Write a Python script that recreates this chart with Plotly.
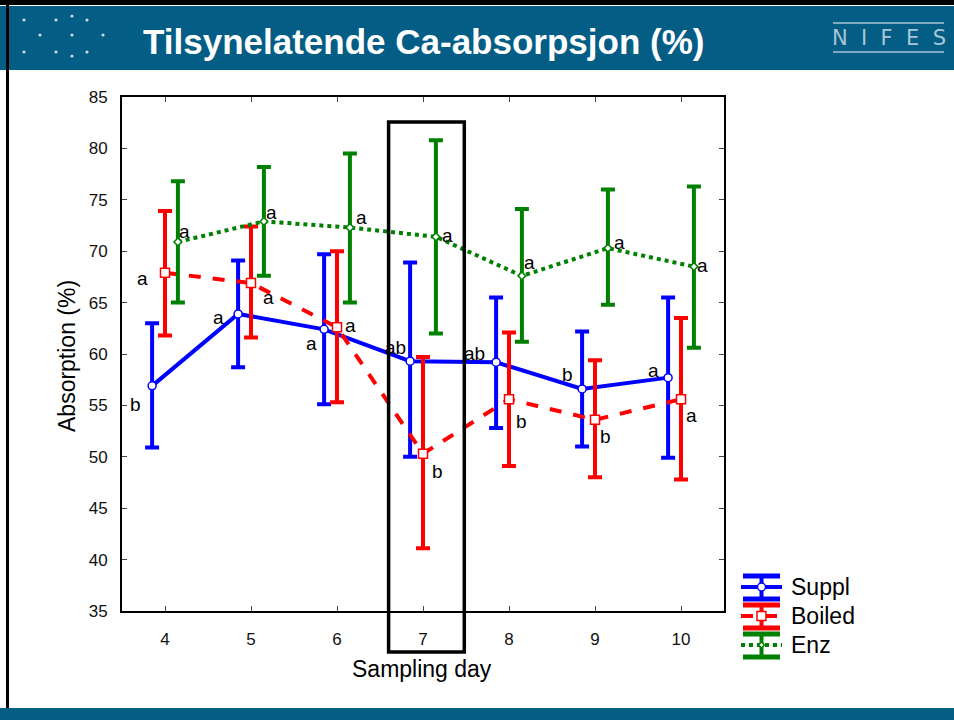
import plotly.graph_objects as go

# ==========================================
# Data
# ==========================================

days = [4, 5, 6, 7, 8, 9, 10]

suppl_mean = [56.9, 63.9, 62.4, 59.3, 59.2, 56.6, 57.7]
suppl_upper = [63.0, 69.1, 69.7, 68.9, 65.5, 62.2, 65.5]
suppl_lower = [50.9, 58.7, 55.1, 50.0, 52.8, 51.0, 49.9]
suppl_letters = ["b", "a", "a", "ab", "ab", "b", "a"]

boiled_mean = [67.9, 66.9, 62.6, 50.3, 55.6, 53.6, 55.6]
boiled_upper = [73.9, 72.4, 70.0, 59.7, 62.1, 59.4, 63.5]
boiled_lower = [61.8, 61.6, 55.3, 41.1, 49.1, 48.0, 47.8]
boiled_letters = ["a", "a", "a", "b", "b", "b", "a"]

enz_mean = [70.9, 72.9, 72.3, 71.4, 67.6, 70.3, 68.5]
enz_upper = [76.8, 78.2, 79.5, 80.8, 74.1, 76.0, 76.3]
enz_lower = [65.0, 67.6, 65.0, 62.0, 61.2, 64.8, 60.6]
enz_letters = ["a", "a", "a", "a", "a", "a", "a"]

highlight_day = 7

# ==========================================
# Style
# ==========================================

HEADER = "#045d85"
LOGO = "#a9c6d6"
FONT = "Liberation Sans, Arial, sans-serif"

# label offsets in pixels (dx, dy) relative to each point
suppl_shift = [(-17, -19), (-20, -4), (-13, -14), (-15, 14), (-22, 9), (-15, 14), (-15, 7)]
boiled_shift = [(-23, -6), (17, -14), (13, 2), (14, -18), (12, -22), (10, -17), (10, -16)]
enz_shift = [(7, 10), (8, 9), (12, 10), (12, 1), (8, 13), (12, 6), (9, 1)]

# plot area in pixels
L, R, T, B = 122, 724, 97, 611


def px_x(p):
    return (p - L) / (R - L)


def px_y(p):
    return (B - p) / (B - T)


series = [
    ("Suppl", suppl_mean, suppl_upper, suppl_lower, suppl_letters, suppl_shift,
     "#0000ff", "solid", "circle", 8, -0.15, 587),
    ("Boiled", boiled_mean, boiled_upper, boiled_lower, boiled_letters, boiled_shift,
     "#ff0000", "dash", "square", 9, 0.0, 616),
    ("Enz", enz_mean, enz_upper, enz_lower, enz_letters, enz_shift,
     "#008000", "dot", "diamond", 6, 0.15, 645),
]

fig = go.Figure()
annotations = []
shapes = []

for name, mean, upper, lower, letters, shift, color, dash, symbol, msize, off, ly in series:

    xs = [d + off for d in days]

    fig.add_trace(go.Scatter(
        x=xs,
        y=mean,
        name=name,
        mode="lines+markers",
        line=dict(color=color, width=4, dash=dash),
        marker=dict(symbol=symbol, size=msize, color="white",
                    line=dict(color=color, width=1.5)),
        error_y=dict(
            type="data",
            symmetric=False,
            array=[u - m for u, m in zip(upper, mean)],
            arrayminus=[m - lo for m, lo in zip(mean, lower)],
            color=color,
            thickness=4,
            width=7
        ),
        showlegend=False
    ))

    for x, y, t, (dx, dy) in zip(xs, mean, letters, shift):
        annotations.append(dict(
            x=x, y=y, xref="x", yref="y",
            text=t, showarrow=False,
            xshift=dx, yshift=dy,
            font=dict(size=19, color="black", family=FONT)
        ))

    # legend entry (error bar glyph + text)
    for cy in (ly - 11, ly + 12):
        shapes.append(dict(
            type="line", xref="paper", yref="paper",
            x0=px_x(743), x1=px_x(780), y0=px_y(cy), y1=px_y(cy),
            line=dict(color=color, width=5)
        ))
    shapes.append(dict(
        type="line", xref="paper", yref="paper",
        x0=px_x(761.5), x1=px_x(761.5), y0=px_y(ly - 11), y1=px_y(ly + 12),
        line=dict(color=color, width=4)
    ))
    shapes.append(dict(
        type="line", xref="paper", yref="paper",
        x0=px_x(741), x1=px_x(782), y0=px_y(ly), y1=px_y(ly),
        line=dict(color=color, width=4, dash=dash)
    ))
    r = msize / 2
    if symbol == "square":
        shapes.append(dict(
            type="rect", xref="paper", yref="paper",
            x0=px_x(761.5 - r), x1=px_x(761.5 + r),
            y0=px_y(ly + r), y1=px_y(ly - r),
            fillcolor="white", line=dict(color=color, width=1.5)
        ))
    elif symbol == "diamond":
        pts = [(761.5, ly - r), (761.5 + r, ly), (761.5, ly + r), (761.5 - r, ly)]
        path = "M " + " L ".join(f"{px_x(a):.5f},{px_y(b):.5f}" for a, b in pts) + " Z"
        shapes.append(dict(
            type="path", xref="paper", yref="paper", path=path,
            fillcolor="white", line=dict(color=color, width=1.5)
        ))
    else:
        shapes.append(dict(
            type="circle", xref="paper", yref="paper",
            x0=px_x(761.5 - r), x1=px_x(761.5 + r),
            y0=px_y(ly + r), y1=px_y(ly - r),
            fillcolor="white", line=dict(color=color, width=1.5)
        ))
    annotations.append(dict(
        x=px_x(789), y=px_y(ly), xref="paper", yref="paper",
        xanchor="left", yanchor="middle", showarrow=False,
        text=name,
        font=dict(size=23, color="black", family=FONT)
    ))

# ==========================================
# Slide decoration
# ==========================================

shapes += [
    # header band
    dict(type="rect", xref="paper", yref="paper",
         x0=px_x(0), x1=px_x(960), y0=px_y(6), y1=px_y(70),
         fillcolor=HEADER, line=dict(width=0), layer="below"),
    dict(type="rect", xref="paper", yref="paper",
         x0=px_x(0), x1=px_x(960), y0=px_y(0), y1=px_y(5),
         fillcolor="black", line=dict(width=0), layer="below"),
    # footer band
    dict(type="rect", xref="paper", yref="paper",
         x0=px_x(0), x1=px_x(960), y0=px_y(722), y1=px_y(708),
         fillcolor=HEADER, line=dict(width=0), layer="below"),
    # left frame line
    dict(type="line", xref="paper", yref="paper",
         x0=px_x(7.5), x1=px_x(7.5), y0=px_y(0), y1=px_y(708),
         line=dict(color="black", width=3)),
    # NIFES rules
    dict(type="line", xref="paper", yref="paper",
         x0=px_x(833), x1=px_x(944), y0=px_y(23), y1=px_y(23),
         line=dict(color=LOGO, width=1.5)),
    dict(type="line", xref="paper", yref="paper",
         x0=px_x(833), x1=px_x(944), y0=px_y(52), y1=px_y(52),
         line=dict(color=LOGO, width=1.5)),
    # highlighted day
    dict(type="rect", xref="x", yref="paper",
         x0=highlight_day - 0.4, x1=highlight_day + 0.48,
         y0=px_y(652), y1=px_y(122),
         line=dict(color="black", width=3.5)),
]

dots = [(24, 20), (56, 20), (72, 16), (87, 20), (40, 35), (72, 35),
        (103, 35), (24, 52), (56, 52), (72, 56), (87, 52)]

for cx, cy in dots:
    shapes.append(dict(
        type="circle", xref="paper", yref="paper",
        x0=px_x(cx - 1.6), x1=px_x(cx + 1.6),
        y0=px_y(cy + 1.6), y1=px_y(cy - 1.6),
        fillcolor="#c9d9e3", line=dict(width=0)
    ))

annotations.append(dict(
    x=px_x(141), y=px_y(42), xref="paper", yref="paper",
    xanchor="left", yanchor="middle", showarrow=False,
    text="<b>Tilsynelatende Ca-absorpsjon (%)</b>",
    font=dict(size=35, color="white", family=FONT)
))

annotations.append(dict(
    x=px_x(889), y=px_y(38), xref="paper", yref="paper",
    xanchor="center", yanchor="middle", showarrow=False,
    text="N  I  F  E  S",
    font=dict(size=21, color=LOGO, family="DejaVu Sans")
))

annotations.append(dict(
    x=px_x(422), y=px_y(669), xref="paper", yref="paper",
    xanchor="center", yanchor="middle", showarrow=False,
    text="Sampling day",
    font=dict(size=23, color="black", family=FONT)
))

annotations.append(dict(
    x=px_x(67), y=px_y(356), xref="paper", yref="paper",
    xanchor="center", yanchor="middle", showarrow=False,
    text="Absorption (%)", textangle=-90,
    font=dict(size=23, color="black", family=FONT)
))

# ==========================================
# Layout
# ==========================================

fig.update_layout(

    width=954,
    height=720,

    paper_bgcolor="white",
    plot_bgcolor="white",

    font=dict(family=FONT, color="black", size=17),

    margin=dict(l=L, r=954 - R, t=T, b=720 - B),

    showlegend=False,

    xaxis=dict(
        range=[3.5, 10.5],
        tickmode="array",
        tickvals=days,
        ticktext=[str(d) for d in days],
        ticks="inside",
        ticklen=5,
        showgrid=False,
        zeroline=False,
        showline=True,
        linecolor="black",
        linewidth=2,
        mirror="ticks",
        tickfont=dict(size=17, color="#111111"),
        ticklabelstandoff=12
    ),

    yaxis=dict(
        range=[35, 85],
        dtick=5,
        ticks="inside",
        ticklen=5,
        showgrid=False,
        zeroline=False,
        showline=True,
        linecolor="black",
        linewidth=2,
        mirror="ticks",
        tickfont=dict(size=17, color="#111111"),
        ticklabelstandoff=9
    ),

    shapes=shapes,
    annotations=annotations

)

fig.write_html(
    "out.html",
    config={"displayModeBar": False},
    post_script="document.body.style.margin='0';"
)
